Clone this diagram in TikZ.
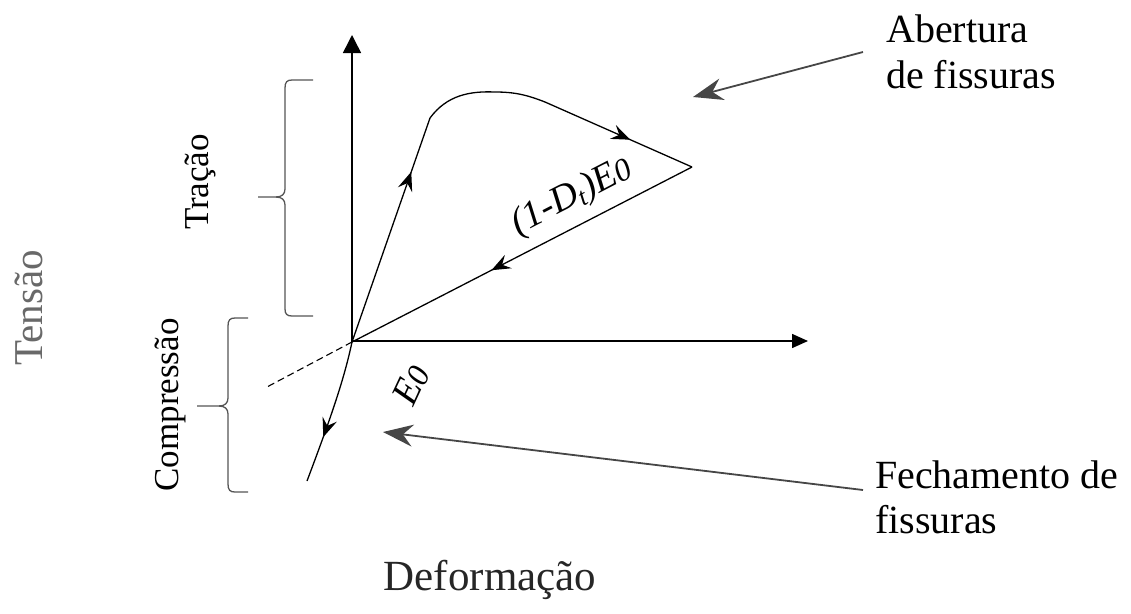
\documentclass[tikz,border=0pt]{standalone}
\usepackage{fontspec}
\setmainfont{Liberation Serif}
\usetikzlibrary{arrows.meta,decorations.markings}
\definecolor{ptgrey}{RGB}{70,70,70}
\definecolor{tgrey}{RGB}{105,105,105}
\definecolor{brgrey}{RGB}{85,85,85}
\tikzset{
  curve/.style={line width=1.3pt, black},
  midarrow/.style={postaction={decorate}, decoration={markings,
      mark=at position #1 with {\arrow{Stealth[length=19pt,width=15pt,inset=7pt]}}}},
  axisline/.style={line width=1.5pt, black},
  bracestyle/.style={line width=1.3pt, draw=brgrey},
  pointer/.style={draw=ptgrey, line width=1.8pt, -{Stealth[length=30pt,width=22pt,inset=10pt,fill=ptgrey]}},
  lbl/.style={inner sep=0pt, font=\fontsize{40}{46}\selectfont},
  sidelbl/.style={inner sep=0pt, rotate=90, font=\fontsize{35}{40}\selectfont},
  mathlbl/.style={inner sep=0pt, font=\fontsize{38}{42}\selectfont\itshape}
}
\begin{document}
\begin{tikzpicture}[x=1pt,y=-1pt]
\useasboundingbox (0,0) rectangle (1131,613);
% key points
\coordinate (O) at (352,342);
\coordinate (ytip) at (352,35);
\coordinate (xtip) at (808,341);
\coordinate (A) at (430,118);
\coordinate (P) at (495,92);
\coordinate (S) at (545,102);
\coordinate (T) at (692,167);
\coordinate (C) at (307,481);
\coordinate (Dend) at (265,388);
% axes
\draw[axisline, -{Triangle[length=18pt,width=18pt]}] (O) -- (ytip);
\draw[axisline, -{Triangle[length=16pt,width=14pt]}] (O|-xtip) -- (xtip);
% loading branch
\draw[curve, midarrow=0.76] (O) -- (A);
\draw[curve] (A) .. controls (447,95) and (470,91) .. (P) .. controls (515,92) and (527,95) .. (S);
\draw[curve, midarrow=0.58] (S) -- (T);
% unloading
\draw[curve, midarrow=0.59] (T) -- (O);
% compression
\draw[curve, midarrow=0.68] (O) .. controls (344,380) and (330,420) .. (C);
% dashed extension
\draw[line width=1.1pt, dash pattern=on 7pt off 4pt] (O) -- (Dend);
% braces
\draw[bracestyle] (313,80) -- (292,80) .. controls (287,80) and (285,82) .. (285,88) -- (285,189)
   .. controls (285,194) and (282,197) .. (276,197) -- (258,197);
\draw[bracestyle] (276,197) .. controls (282,197) and (285,200) .. (285,205) -- (285,309)
   .. controls (285,314) and (287,316) .. (292,316) -- (313,316);
\draw[bracestyle] (248,318) -- (235,318) .. controls (230,318) and (228,320) .. (228,326) -- (228,398)
   .. controls (228,403) and (225,406) .. (219,406) -- (197,406);
\draw[bracestyle] (219,406) .. controls (225,406) and (228,409) .. (228,414) -- (228,484)
   .. controls (228,490) and (230,492) .. (235,492) -- (248,492);
% side labels
\node[sidelbl] (trac) at (200,182) {Tração};
\node[sidelbl] (comp) at (170,405) {Compressão};
\node[inner sep=0pt, rotate=90, text=tgrey, font=\fontsize{41}{46}\selectfont] (tens) at (29,308) {Tensão};
\node[inner sep=0pt, text=black!85, font=\fontsize{43}{48}\selectfont] (def) at (490,580) {Deformação};
% curve labels
\node[mathlbl, rotate=27.4] (dlab) at (572,197) {(1-D\raisebox{-0.25ex}{\fontsize{26}{28}\selectfont t})E\raisebox{-0.05ex}{\fontsize{32}{34}\selectfont 0}};
\node[mathlbl, rotate=65] (elab) at (411,385) {E\raisebox{-0.05ex}{\fontsize{32}{34}\selectfont 0}};
% right labels
\node[lbl, anchor=base west] (ab1) at (886,42) {Abertura};
\node[lbl, anchor=base west] (ab2) at (886,88) {de fissuras};
\node[lbl, anchor=base west] (fe1) at (875,488) {Fechamento de};
\node[lbl, anchor=base west] (fe2) at (875,533) {fissuras};
% pointers
\coordinate (abtail) at (863,52);
\coordinate (abhead) at (693,97);
\coordinate (fetail) at (863,490);
\coordinate (fehead) at (383,432);
\draw[pointer] (abtail) -- (abhead);
\draw[pointer] (fetail) -- (fehead);
\end{tikzpicture}
\end{document}
